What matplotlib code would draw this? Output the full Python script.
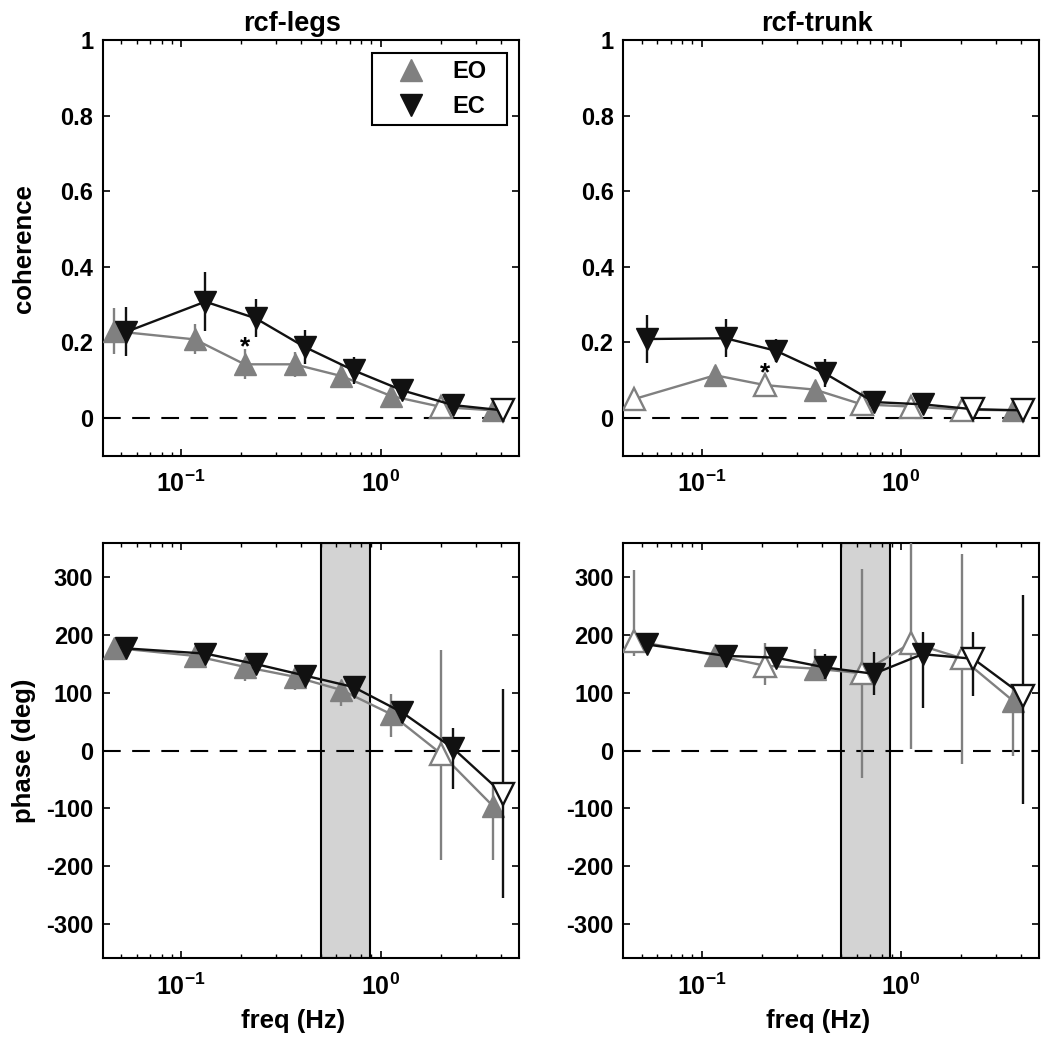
import numpy as np
import matplotlib as mpl
mpl.use("Agg")
import matplotlib.pyplot as plt
from matplotlib.lines import Line2D
from matplotlib.ticker import FixedLocator, FixedFormatter, LogLocator, NullFormatter


# stimulus frequencies (Hz), EO and EC are offset slightly
FREQ_EO = np.array([0.046, 0.117, 0.208, 0.37, 0.635, 1.13, 2.02, 3.66])
FREQ_EC = np.array([0.053, 0.132, 0.236, 0.416, 0.732, 1.285, 2.31, 4.11])

# coherence, rcf-legs
COH_LEGS_EO = np.array([0.230, 0.208, 0.142, 0.142, 0.111, 0.058, 0.029, 0.020])
COH_LEGS_EO_ERR = np.array([0.060, 0.040, 0.040, 0.033, 0.030, 0.010, 0.010, 0.008])
COH_LEGS_EC = np.array([0.228, 0.308, 0.264, 0.188, 0.126, 0.073, 0.034, 0.020])
COH_LEGS_EC_ERR = np.array([0.065, 0.078, 0.050, 0.045, 0.036, 0.015, 0.010, 0.005])
COH_LEGS_EO_OPEN = [0, 0, 0, 0, 0, 0, 1, 0]
COH_LEGS_EC_OPEN = [0, 0, 0, 0, 0, 0, 0, 1]

# coherence, rcf-trunk
COH_TRUNK_EO = np.array([0.050, 0.113, 0.087, 0.075, 0.036, 0.030, 0.022, 0.020])
COH_TRUNK_EO_ERR = np.array([0.010, 0.025, 0.030, 0.010, 0.010, 0.010, 0.008, 0.005])
COH_TRUNK_EC = np.array([0.209, 0.211, 0.178, 0.118, 0.042, 0.036, 0.023, 0.020])
COH_TRUNK_EC_ERR = np.array([0.063, 0.050, 0.030, 0.037, 0.010, 0.010, 0.005, 0.005])
COH_TRUNK_EO_OPEN = [1, 0, 1, 0, 1, 1, 1, 0]
COH_TRUNK_EC_OPEN = [0, 0, 0, 0, 0, 0, 1, 1]

# phase (deg), rcf-legs; errors given as (minus, plus)
PH_LEGS_EO = np.array([178, 164, 145, 128, 105, 63, -6, -96])
PH_LEGS_EO_LO = np.array([10, 12, 24, 23, 27, 39, 183, 93])
PH_LEGS_EO_HI = np.array([10, 12, 10, 10, 10, 35, 180, 38])
PH_LEGS_EC = np.array([177, 168, 150, 130, 110, 66, 4, -75])
PH_LEGS_EC_LO = np.array([10, 10, 10, 10, 18, 18, 70, 180])
PH_LEGS_EC_HI = np.array([10, 10, 10, 10, 18, 18, 35, 181])
PH_LEGS_EO_OPEN = [0, 0, 0, 0, 0, 0, 1, 0]
PH_LEGS_EC_OPEN = [0, 0, 0, 0, 0, 0, 0, 1]

# phase (deg), rcf-trunk
PH_TRUNK_EO = np.array([190, 165, 147, 142, 134, 187, 160, 86])
PH_TRUNK_EO_LO = np.array([27, 20, 33, 20, 181, 184, 184, 95])
PH_TRUNK_EO_HI = np.array([123, 15, 39, 34, 180, 184, 180, 29])
PH_TRUNK_EC = np.array([184, 164, 161, 144, 133, 167, 159, 95])
PH_TRUNK_EC_LO = np.array([10, 20, 12, 20, 36, 94, 65, 188])
PH_TRUNK_EC_HI = np.array([10, 18, 12, 23, 38, 38, 46, 175])
PH_TRUNK_EO_OPEN = [1, 0, 1, 0, 1, 1, 1, 0]
PH_TRUNK_EC_OPEN = [0, 0, 0, 0, 0, 0, 1, 1]

BAND = (0.5, 0.88)          # shaded frequency band in phase plots
STAR_IDX = 2                # EO point marked with *
STAR_Y = [0.21, 0.14]       # legs, trunk

TITLES = ["rcf-legs", "rcf-trunk"]
COH_TICKS = [0, 0.2, 0.4, 0.6, 0.8, 1]
COH_LABELS = ["0", "0.2", "0.4", "0.6", "0.8", "1"]
PH_TICKS = [-300, -200, -100, 0, 100, 200, 300]

GRAY = "#808080"
BLACK = "#111111"
SHADE = "#d3d3d3"
MS = 16
TICK_FS = 17
LABEL_FS = 18.5


def apply_style():
    mpl.rcParams.update(
        {
            "font.family": ["Liberation Sans", "DejaVu Sans"],
            "font.weight": "bold",
            "font.size": TICK_FS,
            "mathtext.fontset": "custom",
            "mathtext.rm": "Liberation Sans:bold",
            "mathtext.it": "Liberation Sans:bold",
            "mathtext.bf": "Liberation Sans:bold",
            "mathtext.default": "rm",
            "axes.unicode_minus": False,
            "axes.linewidth": 1.5,
            "xtick.direction": "in",
            "ytick.direction": "in",
            "xtick.top": True,
            "ytick.right": True,
            "xtick.major.size": 5,
            "ytick.major.size": 5,
            "xtick.minor.size": 3,
            "xtick.major.width": 1.2,
            "ytick.major.width": 1.2,
            "xtick.minor.width": 1.0,
        }
    )


def draw_series(ax, freq, vals, err, is_open, color, marker, z):
    is_open = np.asarray(is_open, dtype=bool)
    ax.plot(freq, vals, color=color, lw=1.7, zorder=z)
    ax.errorbar(freq, vals, yerr=err, fmt="none", ecolor=color,
                elinewidth=1.7, capsize=0, zorder=z)
    ax.plot(freq[~is_open], vals[~is_open], ls="none", marker=marker, ms=MS,
            mfc=color, mec=color, mew=1.0, zorder=z + 0.5)
    ax.plot(freq[is_open], vals[is_open], ls="none", marker=marker, ms=MS,
            mfc="white", mec=color, mew=1.7, zorder=z + 0.5)


def setup_xaxis(ax):
    ax.set_xscale("log")
    ax.set_xlim(0.0405, 4.95)
    ax.xaxis.set_major_locator(FixedLocator([0.1, 1.0]))
    ax.xaxis.set_major_formatter(FixedFormatter([r"$10^{-1}$", r"$10^{0}$"]))
    ax.xaxis.set_minor_locator(LogLocator(base=10, subs=np.arange(2, 10)))
    ax.xaxis.set_minor_formatter(NullFormatter())
    ax.tick_params(axis="x", which="major", pad=11, labelsize=TICK_FS + 1)
    ax.tick_params(axis="y", pad=7, labelsize=TICK_FS)


def zero_line(ax):
    ax.axhline(0, color="black", lw=1.5, dashes=(8.5, 5.5), zorder=2)


def main():
    apply_style()
    fig = plt.figure(figsize=(10.5, 10.41), dpi=100)

    lefts = [0.0981, 0.5936]
    w = 0.3962
    ax_coh = [fig.add_axes([l, 0.5623, w, 0.3988]) for l in lefts]
    ax_ph = [fig.add_axes([l, 0.0794, w, 0.3992]) for l in lefts]

    coh = [
        (COH_LEGS_EO, COH_LEGS_EO_ERR, COH_LEGS_EO_OPEN,
         COH_LEGS_EC, COH_LEGS_EC_ERR, COH_LEGS_EC_OPEN),
        (COH_TRUNK_EO, COH_TRUNK_EO_ERR, COH_TRUNK_EO_OPEN,
         COH_TRUNK_EC, COH_TRUNK_EC_ERR, COH_TRUNK_EC_OPEN),
    ]
    ph = [
        (PH_LEGS_EO, [PH_LEGS_EO_LO, PH_LEGS_EO_HI], PH_LEGS_EO_OPEN,
         PH_LEGS_EC, [PH_LEGS_EC_LO, PH_LEGS_EC_HI], PH_LEGS_EC_OPEN),
        (PH_TRUNK_EO, [PH_TRUNK_EO_LO, PH_TRUNK_EO_HI], PH_TRUNK_EO_OPEN,
         PH_TRUNK_EC, [PH_TRUNK_EC_LO, PH_TRUNK_EC_HI], PH_TRUNK_EC_OPEN),
    ]

    # MATLAB put the titles/xlabels a little left of centre
    text_x = [0.458, 0.468]
    for i in range(2):
        # coherence row
        ax = ax_coh[i]
        eo, eo_err, eo_open, ec, ec_err, ec_open = coh[i]
        zero_line(ax)
        draw_series(ax, FREQ_EO, eo, eo_err, eo_open, GRAY, "^", 3)
        draw_series(ax, FREQ_EC, ec, ec_err, ec_open, BLACK, "v", 4)
        ax.annotate("*", (FREQ_EO[STAR_IDX], STAR_Y[i]), xytext=(0, -6),
                    textcoords="offset points", ha="center", va="center",
                    fontsize=19, fontweight="bold", zorder=6)
        setup_xaxis(ax)
        ax.set_ylim(-0.1, 1.0)
        ax.set_yticks(COH_TICKS, COH_LABELS)
        ax.set_title(TITLES[i], fontsize=19.5, fontweight="bold", pad=7,
                     x=text_x[i] - 0.003)

        # phase row
        ax = ax_ph[i]
        eo, eo_err, eo_open, ec, ec_err, ec_open = ph[i]
        ax.axvspan(BAND[0], BAND[1], facecolor=SHADE, edgecolor="black",
                   lw=1.5, zorder=1)
        zero_line(ax)
        draw_series(ax, FREQ_EO, eo, eo_err, eo_open, GRAY, "^", 3)
        draw_series(ax, FREQ_EC, ec, ec_err, ec_open, BLACK, "v", 4)
        setup_xaxis(ax)
        ax.set_ylim(-360, 360)
        ax.set_yticks(PH_TICKS)
        ax.set_xlabel("freq (Hz)", fontsize=LABEL_FS, fontweight="bold")
        ax.xaxis.set_label_coords(text_x[i], -0.122)
        ax.xaxis.label.set_va("top")

    ax_coh[0].set_ylabel("coherence", fontsize=LABEL_FS, fontweight="bold")
    ax_coh[0].yaxis.set_label_coords(-0.162, 0.5)
    ax_ph[0].set_ylabel("phase (deg)", fontsize=LABEL_FS, fontweight="bold")
    ax_ph[0].yaxis.set_label_coords(-0.162, 0.5)

    handles = [
        Line2D([], [], ls="none", marker="^", ms=MS, mfc=GRAY, mec=GRAY),
        Line2D([], [], ls="none", marker="v", ms=MS, mfc=BLACK, mec=BLACK),
    ]
    leg = ax_coh[0].legend(handles, ["EO", "EC"], loc="upper right",
                           bbox_to_anchor=(0.646, 0.5, 0.324, 0.469),
                           mode="expand", borderaxespad=0,
                           fancybox=False, framealpha=1, edgecolor="black",
                           fontsize=17, handlelength=2.7, handletextpad=0.4,
                           borderpad=0.3, labelspacing=0.5)
    leg.get_frame().set_linewidth(1.5)
    for t in leg.get_texts():
        t.set_fontweight("bold")

    fig.savefig("out.png", dpi=100)
    plt.close(fig)


if __name__ == "__main__":
    main()
